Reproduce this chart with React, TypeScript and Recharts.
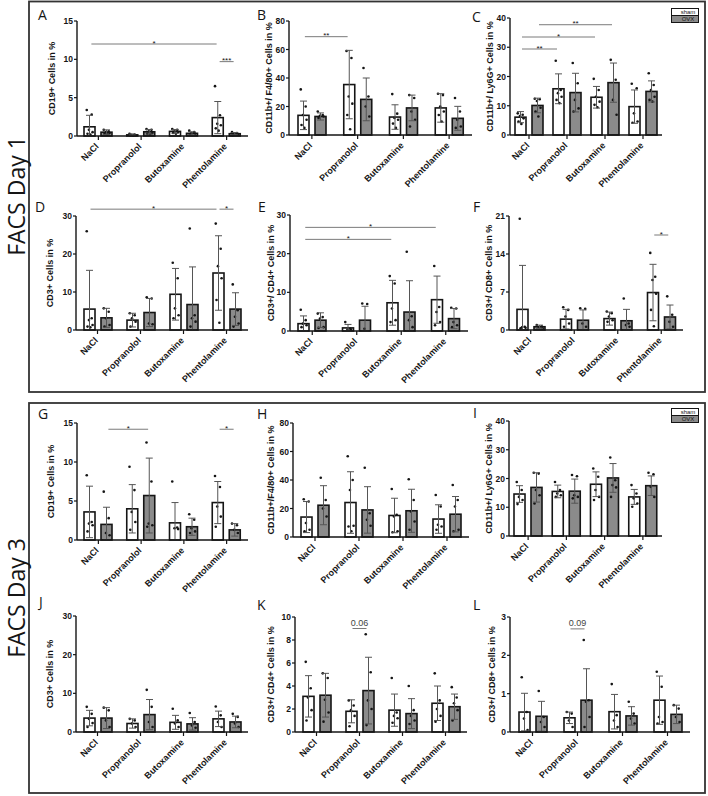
import React from "react";
import { BarChart, Bar, XAxis, YAxis, ErrorBar, ReferenceLine, Legend } from "recharts";

const GROUPS = ["NaCl", "Propranolol", "Butoxamine", "Phentolamine"];
const SERIES = ["sham", "OVX"];

type Side = "sham" | "ovx";
type Sig = { from: string; fromBar: Side; to: string; toBar: Side; y: number; label: string };

// A — CD19+ day 1
const aTicks = [0, 5, 10, 15];
const aSham = [1.2, 0.15, 0.6, 2.4];
const aShamSd = [1.5, 0.1, 0.25, 2.1];
const aOvx = [0.5, 0.55, 0.35, 0.3];
const aOvxSd = [0.3, 0.3, 0.2, 0.15];
const aShamPts = [[3.4, 2.8, 0.8, 0.5, 0.3, 0.2], [0.3, 0.2, 0.15, 0.1, 0.1, 0.05], [0.9, 0.8, 0.6, 0.5, 0.4, 0.3], [6.5, 2.7, 1.6, 1.4, 1.0, 0.7]];
const aOvxPts = [[0.8, 0.6, 0.5, 0.4, 0.3, 0.2], [0.9, 0.8, 0.6, 0.4, 0.3, 0.2], [0.7, 0.5, 0.4, 0.3, 0.2], [0.5, 0.4, 0.3, 0.2, 0.1]];
const aSig: Sig[] = [
  { from: "NaCl", fromBar: "sham", to: "Phentolamine", toBar: "sham", y: 12, label: "*" },
  { from: "Phentolamine", fromBar: "sham", to: "Phentolamine", toBar: "ovx", y: 9.7, label: "***" },
];

// B — CD11b+/F4/80+ day 1
const bTicks = [0, 20, 40, 60, 80];
const bSham = [13.8, 35.4, 12.6, 19];
const bShamSd = [10, 24, 8.6, 10];
const bOvx = [13, 25, 19, 11.7];
const bOvxSd = [2.5, 15, 9, 8.4];
const bShamPts = [[32, 20, 14, 10.7, 7, 5], [59, 54, 27, 22, 14, 4], [28.7, 15, 12, 10.7, 8, 5], [29, 28, 20, 16.5, 14, 9.5]];
const bOvxPts = [[16.5, 14, 13.5, 13, 12], [47, 27, 20, 13], [28, 26, 16.5, 10.7, 6], [26, 16.5, 10.7, 6, 5]];
const bSig: Sig[] = [{ from: "NaCl", fromBar: "sham", to: "Propranolol", toBar: "sham", y: 69, label: "**" }];

// C — CD11b+/Ly6G+ day 1
const cTicks = [0, 10, 20, 30, 40];
const cSham = [6.1, 15.8, 12.9, 9.7];
const cShamSd = [1.9, 5.1, 3.7, 5.7];
const cOvx = [10.1, 14.5, 17.9, 14.9];
const cOvxSd = [2.5, 6.6, 6.7, 3.6];
const cShamPts = [[7.4, 6.9, 6.5, 5.7, 4.6, 3.8], [25.4, 15.4, 14.3, 13.1, 12, 10.9], [19.2, 15.4, 13.1, 11.4, 10.3, 9.5], [17.5, 16, 7.4, 4.6, 4.2]];
const cOvxPts = [[12.4, 12.2, 11.6, 9.3, 8.0, 6.3], [24.6, 17.7, 12, 9.1, 8], [25.7, 18.9, 12, 6.9], [21.1, 17.1, 15.4, 13.1, 12, 11.4]];
const cSig: Sig[] = [
  { from: "NaCl", fromBar: "ovx", to: "Butoxamine", toBar: "ovx", y: 37.7, label: "**" },
  { from: "NaCl", fromBar: "sham", to: "Butoxamine", toBar: "sham", y: 33.5, label: "*" },
  { from: "NaCl", fromBar: "sham", to: "Propranolol", toBar: "sham", y: 29.4, label: "**" },
];

// D — CD3+ day 1
const dTicks = [0, 10, 20, 30];
const dSham = [5.5, 2.6, 9.4, 15];
const dShamSd = [10.2, 1.8, 6.8, 9.8];
const dOvx = [3.2, 4.6, 6.7, 5.5];
const dOvxSd = [2.5, 3.7, 9.9, 4.3];
const dShamPts = [[26, 3.1, 2.6, 1.3, 0.9, 0.7], [4.4, 3.9, 3.1, 2.2, 0.9], [17.7, 13.6, 5.7, 3.9, 3.1], [28, 21.4, 16.8, 13.6, 7.9, 1.9]];
const dOvxPts = [[5.7, 4.8, 3.1, 1.3, 0.9], [8.6, 8.3, 1.7, 1.5], [26.7, 3.9, 3.1, 2.2, 0.9], [12, 5.2, 3.5, 1.7, 0.9]];
const dSig: Sig[] = [
  { from: "NaCl", fromBar: "sham", to: "Phentolamine", toBar: "sham", y: 31.8, label: "*" },
  { from: "Phentolamine", fromBar: "sham", to: "Phentolamine", toBar: "ovx", y: 31.8, label: "*" },
];

// E — CD3+/CD4+ day 1
const eTicks = [0, 10, 20, 30];
const eSham = [1.9, 0.8, 7.3, 8.1];
const eShamSd = [2, 0.9, 5.8, 6.1];
const eOvx = [2.8, 2.8, 4.9, 3.2];
const eOvxSd = [1.9, 3.6, 8.1, 2.6];
const eShamPts = [[5.5, 2.8, 1.9, 1.5, 1.0], [2.3, 0.6, 0.4, 0.35], [14.2, 12.3, 5.8, 2.8, 2.3], [16.8, 6.2, 4.9, 2.3, 1.5]];
const eOvxPts = [[4.5, 3.6, 3.2, 1.0, 0.8], [7.1, 7.0, 0.6], [20.5, 3.8, 2.8, 1.0], [6.0, 5.8, 2.3, 1.5, 1.0]];
const eSig: Sig[] = [
  { from: "NaCl", fromBar: "sham", to: "Phentolamine", toBar: "sham", y: 26.8, label: "*" },
  { from: "NaCl", fromBar: "sham", to: "Butoxamine", toBar: "sham", y: 23.7, label: "*" },
];

// F — CD3+/CD8+ day 1
const fTicks = [0, 7, 14, 21];
const fSham = [3.8, 2.0, 2.1, 6.9];
const fShamSd = [8.1, 1.8, 1.2, 5.2];
const fOvx = [0.6, 1.8, 1.7, 2.4];
const fOvxSd = [0.3, 1.9, 2.1, 2.2];
const fShamPts = [[20.5, 0.6, 0.5, 0.4, 0.3], [4.2, 3.7, 2.5, 1.2, 0.6], [3.4, 3.1, 2.5, 1.8, 1.5], [14.2, 9.8, 9.2, 6.7, 3.7, 0.7]];
const fOvxPts = [[0.9, 0.7, 0.5, 0.3], [4.0, 3.9, 1.2, 0.6], [5.8, 1.2, 0.9, 0.6], [6.2, 2.8, 1.5, 0.6]];
const fSig: Sig[] = [{ from: "Phentolamine", fromBar: "sham", to: "Phentolamine", toBar: "ovx", y: 17.5, label: "*" }];

// G — CD19+ day 3
const gTicks = [0, 5, 10, 15];
const gSham = [3.6, 4.0, 2.2, 4.8];
const gShamSd = [3.3, 3.1, 2.6, 2.7];
const gOvx = [2.0, 5.7, 1.7, 1.3];
const gOvxSd = [2.2, 4.8, 1.1, 0.8];
const gShamPts = [[8.3, 2.3, 2.1, 1.9, 1.1], [9.4, 6.4, 3.6, 2.3, 1.3], [7.5, 1.6, 1.5, 1.4], [8.2, 6.8, 4.3, 3.0, 1.7]];
const gOvxPts = [[6.2, 2.8, 0.9, 0.6], [12.5, 7.5, 2.1, 1.9, 1.7], [3.3, 2.6, 1.5, 1.1, 0.9], [2.1, 1.9, 1.3, 0.9]];
const gSig: Sig[] = [
  { from: "NaCl", fromBar: "ovx", to: "Propranolol", toBar: "ovx", y: 14.2, label: "*" },
  { from: "Phentolamine", fromBar: "sham", to: "Phentolamine", toBar: "ovx", y: 14.2, label: "*" },
];

// H — CD11b+/F4/80+ day 3
const hTicks = [0, 20, 40, 60, 80];
const hSham = [14, 24.2, 15.1, 12.6];
const hShamSd = [10.9, 21.6, 12.1, 10];
const hOvx = [22.3, 19, 18.4, 16];
const hOvxSd = [13.7, 16.3, 15.1, 12.4];
const hShamPts = [[26.5, 24.9, 9.8, 5.1, 4], [56.7, 40, 33, 7.9, 7.4, 4], [33.7, 15.6, 14.4, 4, 3.3], [29.5, 21.4, 8.6, 7.4, 5.1]];
const hOvxPts = [[41.6, 26, 20, 14.4], [48.6, 16.7, 12.1, 7.9], [40.5, 26, 17.9, 10.9, 5.1], [36.5, 26, 21.4, 5.1, 4]];
const hSig: Sig[] = [];

// I — CD11b+/Ly6G+ day 3
const iTicks = [0, 10, 20, 30, 40];
const iSham = [14.6, 15.5, 18, 13.6];
const iShamSd = [2.9, 2.2, 4.3, 2.6];
const iOvx = [16.9, 15.6, 20.2, 17.5];
const iOvxSd = [5.1, 4.2, 5, 3.4];
const iShamPts = [[18.8, 16, 13.6, 12.5, 11.1], [18.8, 16, 14.8, 14.2, 13.6], [23.5, 20.6, 16, 13.6, 12.5], [17.7, 14.8, 13.1, 11.3, 10.2]];
const iOvxPts = [[22, 21.7, 16, 14.2, 11.3], [21.2, 20.8, 14.2, 13.6, 13.1], [27.3, 19.4, 17.7, 16.9, 13.6], [22, 21.5, 17.1, 13.6]];
const iSig: Sig[] = [];

// J — CD3+ day 3
const jTicks = [0, 10, 20, 30];
const jSham = [3.6, 2.2, 2.5, 3.4];
const jShamSd = [2, 1.2, 1.8, 2];
const jOvx = [3.6, 4.5, 2.1, 2.6];
const jOvxSd = [2.7, 3.9, 1.6, 1.5];
const jShamPts = [[6.5, 4.7, 3.4, 2.3, 1.3], [3.4, 3.0, 2.2, 1.3], [6.0, 3.0, 2.2, 1.3], [6.6, 4.3, 2.6, 1.3]];
const jOvxPts = [[6.3, 5.6, 3.0, 1.3], [10.9, 6.5, 2.6, 1.3], [4.9, 2.6, 1.7, 1.1], [4.7, 3.9, 2.2, 1.3]];
const jSig: Sig[] = [];

// K — CD3+/CD4+ day 3
const kTicks = [0, 2, 4, 6, 8, 10];
const kSham = [3.1, 1.8, 1.9, 2.5];
const kShamSd = [1.8, 1.0, 1.4, 1.5];
const kOvx = [3.2, 3.6, 1.6, 2.2];
const kOvxSd = [1.9, 2.9, 1.3, 1.1];
const kShamPts = [[6.1, 3.8, 3.0, 1.9, 1.0], [2.75, 2.3, 1.9, 1.4, 0.5], [4.7, 1.7, 1.4, 1.2, 0.8], [5.1, 2.75, 2.0, 1.4, 0.9]];
const kOvxPts = [[5.1, 4.7, 2.8, 1.7, 0.9], [8.5, 5.2, 2.75, 2.0, 0.6], [4.0, 1.9, 1.4, 1.0, 0.7], [3.9, 3.0, 2.5, 1.9, 1.0]];
const kSig: Sig[] = [{ from: "Propranolol", fromBar: "sham", to: "Propranolol", toBar: "ovx", y: 9.0, label: "0.06" }];

// L — CD3+/CD8+ day 3
const lTicks = [0, 1, 2, 3];
const lSham = [0.52, 0.37, 0.53, 0.83];
const lShamSd = [0.49, 0.15, 0.45, 0.63];
const lOvx = [0.41, 0.83, 0.42, 0.46];
const lOvxSd = [0.39, 0.82, 0.24, 0.24];
const lShamPts = [[1.43, 0.52, 0.35, 0.05], [0.52, 0.48, 0.3, 0.13], [1.25, 0.44, 0.3, 0.13], [1.57, 1.18, 0.39, 0.26, 0.22]];
const lOvxPts = [[1.07, 0.39, 0.26, 0.13], [2.4, 0.83, 0.79, 0.39, 0.13], [0.79, 0.48, 0.35, 0.22], [0.7, 0.61, 0.39, 0.26]];
const lSig: Sig[] = [{ from: "Propranolol", fromBar: "sham", to: "Propranolol", toBar: "ovx", y: 2.69, label: "0.09" }];

function buildRows(sham: number[], shamSd: number[], ovx: number[], ovxSd: number[], shamPts: number[][], ovxPts: number[][]) {
  return GROUPS.map((group, i) => ({
    group,
    sham: sham[i],
    ovx: ovx[i],
    shamErr: [Math.min(shamSd[i], sham[i]), shamSd[i]],
    ovxErr: [Math.min(ovxSd[i], ovx[i]), ovxSd[i]],
    shamPts: shamPts[i],
    ovxPts: ovxPts[i],
  }));
}

const PANELS = [
  { id: "A", title: "CD19+ Cells in %", ticks: aTicks, sigs: aSig, rows: buildRows(aSham, aShamSd, aOvx, aOvxSd, aShamPts, aOvxPts) },
  { id: "B", title: "CD11b+/ F4/80+ Cells in %", ticks: bTicks, sigs: bSig, rows: buildRows(bSham, bShamSd, bOvx, bOvxSd, bShamPts, bOvxPts) },
  { id: "C", title: "CD11b+/ Ly6G+ Cells in %", ticks: cTicks, sigs: cSig, rows: buildRows(cSham, cShamSd, cOvx, cOvxSd, cShamPts, cOvxPts) },
  { id: "D", title: "CD3+ Cells in %", ticks: dTicks, sigs: dSig, rows: buildRows(dSham, dShamSd, dOvx, dOvxSd, dShamPts, dOvxPts) },
  { id: "E", title: "CD3+/ CD4+ Cells in %", ticks: eTicks, sigs: eSig, rows: buildRows(eSham, eShamSd, eOvx, eOvxSd, eShamPts, eOvxPts) },
  { id: "F", title: "CD3+/ CD8+ Cells in %", ticks: fTicks, sigs: fSig, rows: buildRows(fSham, fShamSd, fOvx, fOvxSd, fShamPts, fOvxPts) },
  { id: "G", title: "CD19+ Cells in %", ticks: gTicks, sigs: gSig, rows: buildRows(gSham, gShamSd, gOvx, gOvxSd, gShamPts, gOvxPts) },
  { id: "H", title: "CD11b+/F4/80+ Cells in %", ticks: hTicks, sigs: hSig, rows: buildRows(hSham, hShamSd, hOvx, hOvxSd, hShamPts, hOvxPts) },
  { id: "I", title: "CD11b+/ Ly6G+ Cells in %", ticks: iTicks, sigs: iSig, rows: buildRows(iSham, iShamSd, iOvx, iOvxSd, iShamPts, iOvxPts) },
  { id: "J", title: "CD3+ Cells in %", ticks: jTicks, sigs: jSig, rows: buildRows(jSham, jShamSd, jOvx, jOvxSd, jShamPts, jOvxPts) },
  { id: "K", title: "CD3+/ CD4+ Cells in %", ticks: kTicks, sigs: kSig, rows: buildRows(kSham, kShamSd, kOvx, kOvxSd, kShamPts, kOvxPts) },
  { id: "L", title: "CD3+/ CD8+ Cells in %", ticks: lTicks, sigs: lSig, rows: buildRows(lSham, lShamSd, lOvx, lOvxSd, lShamPts, lOvxPts) },
];

// layout: plot-area left/top/width/height in page px, y-title gap, panel letter position
const LAYOUT: Record<string, any> = {
  A: { left: 77, top: 21, w: 171, h: 115, gap: 25, lx: 38, ly: 20 },
  B: { left: 289, top: 21, w: 183, h: 114, gap: 20, lx: 257, ly: 20 },
  C: { left: 510, top: 18, w: 180, h: 117, gap: 20, lx: 472, ly: 22, legend: 8 },
  D: { left: 76, top: 216, w: 172, h: 114, gap: 26, lx: 35, ly: 212 },
  E: { left: 290, top: 215, w: 178, h: 116, gap: 19, lx: 258, ly: 212 },
  F: { left: 509, top: 216, w: 174, h: 114, gap: 20, lx: 473, ly: 212 },
  G: { left: 77, top: 423, w: 171, h: 117, gap: 26, lx: 38, ly: 419 },
  H: { left: 293, top: 423, w: 176, h: 114, gap: 22, lx: 257, ly: 419 },
  I: { left: 509, top: 421, w: 181, h: 115, gap: 20, lx: 473, ly: 418, legend: 408 },
  J: { left: 76, top: 616, w: 172, h: 116, gap: 26, lx: 39, ly: 607 },
  K: { left: 295, top: 617, w: 172, h: 115, gap: 24, lx: 257, ly: 610 },
  L: { left: 510, top: 617, w: 180, h: 115, gap: 18, lx: 473, ly: 610 },
};

const FONT = "'Liberation Sans', Arial, sans-serif";
const INK = "#151515";
const OVX_FILL = "#8b8b8b";
const YW = 50;
const MT = 24;
const MR = 6;
const XH = 70;
const BAR = 11;
const GAP = 6;
const OFF = (BAR + GAP) / 2;
const JITTER = [-0.25, 0.2, -0.05, 0.28, -0.18, 0.08, 0.0];

function barShape(ptsKey: string, meanKey: string) {
  return (p: any) => {
    const { x, y, width, height, payload, fill } = p;
    const base = y + height;
    const mean = payload[meanKey];
    const pts: number[] = payload[ptsKey] || [];
    return (
      <g>
        <rect x={x} y={y} width={width} height={height} fill={fill} stroke={INK} strokeWidth={1.6} />
        {pts.map((v, i) => (
          <circle
            key={i}
            cx={x + width / 2 + JITTER[i % JITTER.length] * width}
            cy={base - (v / mean) * height}
            r={1.3}
            fill={INK}
          />
        ))}
      </g>
    );
  };
}

function sigShape(s: Sig) {
  return (p: any) => {
    const x1 = p.x1 + (s.fromBar === "sham" ? -OFF : OFF) + 1.5;
    const x2 = p.x2 + (s.toBar === "sham" ? -OFF : OFF) - 1.5;
    const y = p.y1;
    const star = s.label.startsWith("*");
    return (
      <g>
        <line x1={x1} y1={y} x2={x2} y2={y} stroke="#7a7a7a" strokeWidth={1} />
        <text
          x={(x1 + x2) / 2}
          y={star ? y + 1.5 : y - 3}
          textAnchor="middle"
          fontFamily={FONT}
          fontSize={star ? 8 : 9}
          fill={star ? INK : "#444"}
        >
          {s.label}
        </text>
      </g>
    );
  };
}

const XTick = (props: any) => {
  const { x, y, payload } = props;
  const ax = x + 1;
  const ay = y + 5;
  return (
    <text x={ax} y={ay} transform={`rotate(-45 ${ax} ${ay})`} textAnchor="end" fontFamily={FONT} fontSize={9} fontWeight="bold" fill={INK}>
      {payload.value}
    </text>
  );
};

function yTitle(title: string, gap: number, h: number) {
  return (props: any) => {
    const vb = props.viewBox;
    const x = (vb && vb.width ? vb.x + vb.width : YW) - gap;
    const y = vb && vb.height ? vb.y + vb.height / 2 : MT + h / 2;
    return (
      <text x={x} y={y} transform={`rotate(-90 ${x} ${y})`} textAnchor="middle" dominantBaseline="central" fontFamily={FONT} fontSize={9} fontWeight="bold" fill={INK}>
        {title}
      </text>
    );
  };
}

const LegendBox = (props: any) => {
  const payload = [...(props.payload || [])].sort((a: any, b: any) => SERIES.indexOf(a.value) - SERIES.indexOf(b.value));
  return (
    <div style={{ width: 28, fontFamily: FONT, fontSize: 6 }}>
      {payload.map((e: any, i: number) => (
        <div
          key={e.value}
          style={{
            boxSizing: "border-box",
            height: 8,
            marginTop: i === 0 ? 0 : -1,
            border: `1px solid ${INK}`,
            background: e.color,
            color: INK,
            lineHeight: "6px",
            textAlign: "center",
            paddingLeft: 6,
          }}
        >
          {e.value}
        </div>
      ))}
    </div>
  );
};

function Panel({ p }: { p: (typeof PANELS)[number] }) {
  const l = LAYOUT[p.id];
  const width = YW + l.w + MR;
  const height = MT + l.h + XH;
  const wrapLeft = l.left - YW;
  const wrapTop = l.top - MT;
  const yMax = p.ticks[p.ticks.length - 1];
  return (
    <div style={{ position: "absolute", left: wrapLeft, top: wrapTop }}>
      <BarChart
        width={width}
        height={height}
        data={p.rows}
        margin={{ top: MT, right: MR, bottom: 0, left: 0 }}
        barSize={BAR}
        barGap={GAP}
      >
        <XAxis
          dataKey="group"
          interval={0}
          height={XH}
          tickSize={4}
          tickLine={{ stroke: INK, strokeWidth: 1.2 }}
          axisLine={{ stroke: INK, strokeWidth: 1.4 }}
          tick={XTick}
        />
        <YAxis
          type="number"
          domain={[0, yMax]}
          ticks={p.ticks}
          interval={0}
          width={YW}
          tickSize={3}
          tickMargin={1}
          tickLine={{ stroke: INK, strokeWidth: 1.2 }}
          axisLine={{ stroke: INK, strokeWidth: 1.4 }}
          tick={{ fontFamily: FONT, fontSize: 8.5, fontWeight: "bold", fill: INK }}
          label={{ content: yTitle(p.title, l.gap, l.h) }}
        />
        <Bar dataKey="sham" name="sham" fill="#ffffff" isAnimationActive={false} shape={barShape("shamPts", "sham")}>
          <ErrorBar dataKey="shamErr" width={3.5} stroke="#555" strokeWidth={1} />
        </Bar>
        <Bar dataKey="ovx" name="OVX" fill={OVX_FILL} isAnimationActive={false} shape={barShape("ovxPts", "ovx")}>
          <ErrorBar dataKey="ovxErr" width={3.5} stroke="#555" strokeWidth={1} />
        </Bar>
        {p.sigs.map((s, i) => (
          <ReferenceLine
            key={i}
            segment={[{ x: s.from, y: s.y }, { x: s.to, y: s.y }]}
            ifOverflow="visible"
            shape={sigShape(s)}
          />
        ))}
        {l.legend !== undefined && (
          <Legend
            layout="horizontal"
            align="right"
            verticalAlign="middle"
            content={LegendBox}
            wrapperStyle={{ top: l.legend - wrapTop, left: 671 - wrapLeft, width: 28, height: 16 }}
          />
        )}
      </BarChart>
    </div>
  );
}

export default function App() {
  return (
    <div style={{ position: "absolute", left: 0, top: 0, width: 708, height: 796, background: "#fff", overflow: "hidden" }}>
      <svg width={708} height={796} style={{ position: "absolute", left: 0, top: 0 }}>
        <rect x={29} y={1.5} width={676} height={390.5} fill="none" stroke="#333" strokeWidth={1.8} />
        <rect x={29} y={403} width={676} height={390} fill="none" stroke="#333" strokeWidth={1.8} />
        <text x={25} y={196} transform="rotate(-90 25 196)" textAnchor="middle" fontFamily="'Open Sans', sans-serif" fontSize={23} fill={INK}>
          FACS Day 1
        </text>
        <text x={25} y={598} transform="rotate(-90 25 598)" textAnchor="middle" fontFamily="'Open Sans', sans-serif" fontSize={23} fill={INK}>
          FACS Day 3
        </text>
        {PANELS.map((p) => (
          <text key={p.id} x={LAYOUT[p.id].lx} y={LAYOUT[p.id].ly} fontFamily="'Open Sans', sans-serif" fontSize={14} fill={INK}>
            {p.id}
          </text>
        ))}
      </svg>
      {PANELS.map((p) => (
        <Panel key={p.id} p={p} />
      ))}
    </div>
  );
}
